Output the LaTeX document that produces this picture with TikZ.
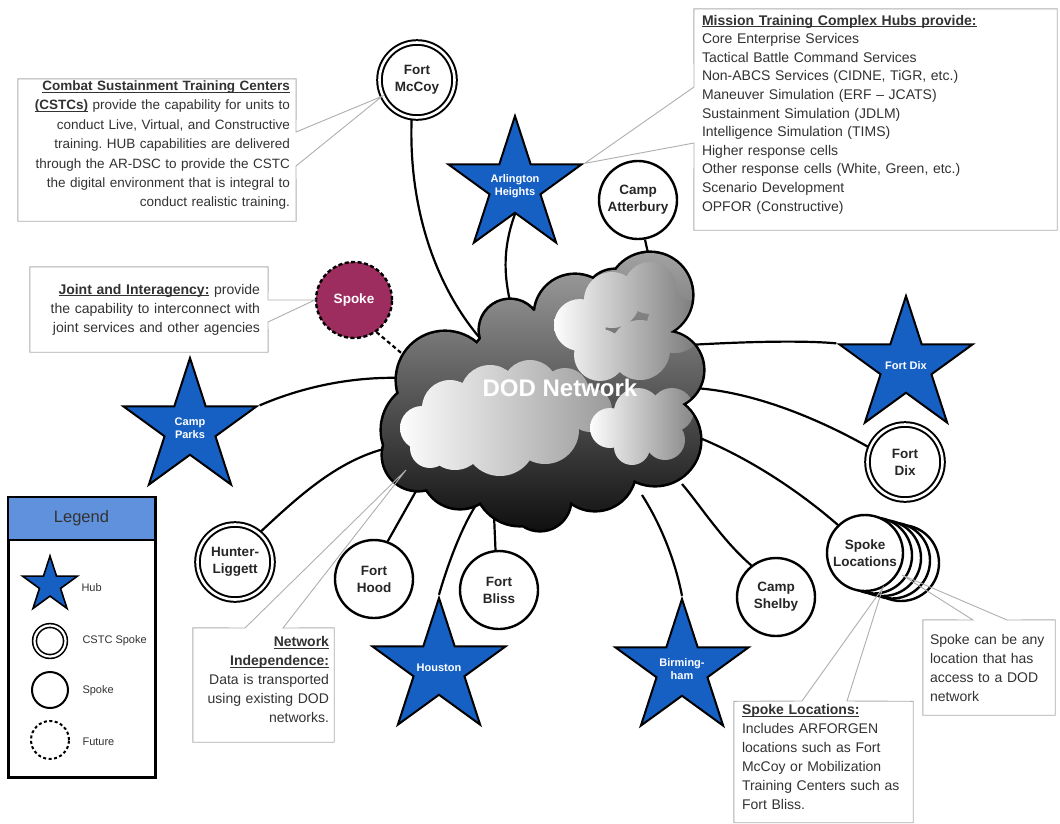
\documentclass[tikz,border=0pt]{standalone}
\usepackage{fontspec}
\setmainfont{Liberation Sans}
\usetikzlibrary{shapes.geometric}
\definecolor{hubblue}{RGB}{22,96,196}
\definecolor{legblue}{RGB}{95,145,220}
\definecolor{spokemag}{RGB}{158,45,95}
\definecolor{txt}{RGB}{50,50,50}
\definecolor{callgray}{RGB}{175,175,175}
\pgfdeclarelayer{back}
\pgfdeclarelayer{bg}
\pgfsetlayers{back,bg,main}
\newcommand\ul[1]{\underline{\smash{#1}}}
\newcommand\boxfont{\frenchspacing\fontsize{14}{19}\selectfont}
\newcommand\nodefont{\bfseries\fontsize{13.5}{17}\selectfont}
\newcommand\hubfont{\bfseries\fontsize{11}{13.5}\selectfont}
\newcommand\legfont{\fontsize{11}{13}\selectfont}
\begin{document}
\begin{tikzpicture}[x=1pt,y=-1pt,
  spk/.style={circle,draw=black,line width=2.4pt,fill=white,minimum size=78pt,inner sep=0pt,font=\nodefont,text=black!85,align=center},
  cstc/.style={circle,draw=black,line width=2pt,double=white,double distance=2.6pt,fill=white,minimum size=75pt,inner sep=0pt,font=\nodefont,text=black!85,align=center},
  hub/.style={star,star points=5,star point ratio=2.618,draw=black,line width=2pt,fill=hubblue,minimum size=140pt,inner sep=0pt},
  hublabel/.style={text=white,font=\hubfont,align=center,inner sep=0pt},
  future/.style={circle,draw=black,line width=2.4pt,dash pattern=on 4pt off 2.5pt,minimum size=76pt,inner sep=0pt},
  link/.style={line width=2.2pt,black},
  callout/.style={draw=callgray,line width=0.9pt},
  textbox/.style={rectangle,fill=white,inner ysep=0pt,text=txt,font=\boxfont}]
\useasboundingbox (0,0) rectangle (1060,823);
\begin{pgfonlayer}{back}
\fill[white] (0,0) rectangle (1060,823);
\end{pgfonlayer}

% ---------------- cloud ----------------
\def\outerlist{430/430/48, 445/380/48, 510/330/30, 575/315/40, 615/300/30, 650/295/42, 622/348/40, 665/370/38, 632/400/38, 655/440/45, 595/470/40, 520/480/45, 460/470/38, 418/455/35, 545/395/85, 540/500/30}
\fill[black] foreach \cx/\cy/\cr in \outerlist { (\cx,\cy) circle[radius=\cr+2.6] };
\begin{scope}
  \clip foreach \cx/\cy/\cr in \outerlist { (\cx,\cy) circle[radius=\cr] };
  \shade[top color=black!35, middle color=black!55, bottom color=black!95] (375,245) rectangle (715,535);
  \begin{scope}
    \clip foreach \cx/\cy/\cr in {422/428/22, 450/408/28, 490/395/30, 530/388/28, 565/392/24, 590/410/22, 545/430/34, 500/440/36, 455/440/30, 430/448/20} { (\cx,\cy) circle[radius=\cr] };
    \shade[left color=white, right color=black!40] (395,360) rectangle (615,478);
  \end{scope}
  \begin{scope}
    \clip foreach \cx/\cy/\cr in {580/325/26, 612/300/28, 650/288/26, 675/325/28, 640/350/30, 600/355/26} { (\cx,\cy) circle[radius=\cr] };
    \shade[left color=white, right color=black!55] (552,262) rectangle (705,385);
  \end{scope}
  \begin{scope}
    \clip foreach \cx/\cy/\cr in {610/428/20, 638/412/24, 672/410/22, 665/440/20, 632/447/18} { (\cx,\cy) circle[radius=\cr] };
    \shade[left color=white, right color=black!50] (588,385) rectangle (700,465);
  \end{scope}
\end{scope}
\node[font=\bfseries\fontsize{24}{24}\selectfont,text=white] (dod) at (560,388) {DOD Network};

% ---------------- nodes ----------------
\node[cstc] (mccoy) at (417,80) {Fort\\McCoy};
\node[hub] (arl) at (515,186) {};
\node[hublabel] (arlt) at (arl) {Arlington\\Heights};
\node[spk] (atter) at (638,200) {Camp\\Atterbury};
\node[future,fill=spokemag,font=\nodefont,text=white] (spoke) at (354,300) {Spoke};
\node[hub] (parks) at (190,428) {};
\node[hublabel] (parkst) at (parks) {Camp\\Parks};
\node[hub] (fdixstar) at (906,366) {};
\node[hublabel] (fdixstart) at (fdixstar) {Fort Dix};
\node[cstc] (fdix) at (905,462) {Fort\\Dix};
\node[cstc] (hunter) at (235,562) {Hunter-\\Liggett};
\node[spk] (hood) at (374,579) {Fort\\Hood};
\node[spk] (bliss) at (499,590) {Fort\\Bliss};
\node[hub] (houston) at (439,668) {};
\node[hublabel] (houstont) at (houston) {Houston};
\node[hub] (birm) at (682,669) {};
\node[hublabel] (birmt) at (birm) {Birming-\\ham};
\node[spk] (shelby) at (776,597) {Camp\\Shelby};
\node[spk,minimum size=76pt] (sploc4) at (901,563) {};
\node[spk,minimum size=76pt] (sploc3) at (892,560.5) {};
\node[spk,minimum size=76pt] (sploc2) at (883,558) {};
\node[spk,minimum size=76pt] (sploc1) at (874,555.5) {};
\node[spk,minimum size=76pt] (sploc) at (865,553) {Spoke\\Locations};

% ---------------- connectors ----------------
\begin{pgfonlayer}{bg}
\draw[link] (mccoy.262) .. controls (408,215) and (440,295) .. (486,345);
\draw[link] (arl.south) .. controls (500,255) and (506,285) .. (512,310);
\draw[link] (atter.-80) -- (650,262);
\draw[link,dash pattern=on 4pt off 3pt] (spoke.-55) -- (412,362);
\draw[link] (parks.outer point 5) .. controls (300,388) and (350,376) .. (405,378);
\draw[link] (hunter.50) .. controls (300,495) and (340,458) .. (392,447);
\draw[link] (hood.70) -- (420,484);
\draw[link] (bliss.95) -- (494,515);
\draw[link] (houston.outer point 1) .. controls (446,570) and (460,530) .. (476,505);
\draw[link] (birm.outer point 1) .. controls (674,555) and (658,520) .. (642,495);
\draw[link] (shelby.128) .. controls (722,540) and (700,505) .. (682,484);
\draw[link] (sploc.134) .. controls (800,492) and (750,458) .. (695,436);
\draw[link] (fdix.158) .. controls (830,425) and (760,392) .. (694,388);
\draw[link] (fdixstar.outer point 2) .. controls (800,340) and (740,342) .. (688,345);
\end{pgfonlayer}

% ---------------- text boxes and callouts ----------------
\node[textbox,minimum width=278,minimum height=142,inner xsep=6pt,text width=266,align=right,font=\frenchspacing\fontsize{13.5}{19.4}\selectfont] (cstcbox) at (157,150)
 {\textbf{\ul{Combat Sustainment Training Centers}}\\
  \textbf{\ul{(CSTCs)}} provide the capability for units to\\
  conduct Live, Virtual, and Constructive\\
  training. HUB capabilities are delivered\\
  through the AR-DSC to provide the CSTC\\
  the digital environment that is integral to\\
  conduct realistic training.};
\draw[callout] (cstcbox.north west) -- (cstcbox.north east) -- (296,132) -- (mccoy.205) -- (296,166) -- (cstcbox.south east) -- (cstcbox.south west) -- cycle;

\node[textbox,minimum width=363,minimum height=221,inner xsep=8pt,text width=347,align=left,font=\frenchspacing\fontsize{14}{18.6}\selectfont] (mtcbox) at (875.5,119.5)
 {\textbf{\ul{Mission Training Complex Hubs provide:}}\\
  Core Enterprise Services\\
  Tactical Battle Command Services\\
  Non-ABCS Services (CIDNE, TiGR, etc.)\\
  Maneuver Simulation (ERF -- JCATS)\\
  Sustainment Simulation (JDLM)\\
  Intelligence Simulation (TIMS)\\
  Higher response cells\\
  Other response cells (White, Green, etc.)\\
  Scenario Development\\
  OPFOR (Constructive)};
\draw[callout] (mtcbox.north west) -- (mtcbox.north east) -- (mtcbox.south east) -- (mtcbox.south west) -- (694,143) -- (arl.outer point 5) -- (694,87) -- cycle;

\node[textbox,minimum width=238,minimum height=85,inner xsep=8pt,text width=222,align=right] (jointbox) at (149,309.5)
 {\textbf{\ul{Joint and Interagency:}} provide\\
  the capability to interconnect with\\
  joint services and other agencies};
\draw[callout] (jointbox.north west) -- (jointbox.north east) -- (268,300) -- (spoke.180) -- (268,322) -- (jointbox.south east) -- (jointbox.south west) -- cycle;

\coordinate (cnet) at (406,470);
\node[textbox,minimum width=141,minimum height=114,inner xsep=5pt,text width=131,align=right] (netbox) at (263.5,685)
 {\textbf{\ul{Network}}\\
  \textbf{\ul{Independence:}}\\
  Data is transported\\
  using existing DOD\\
  networks.};
\draw[callout] (netbox.north west) -- (245,628) -- (cnet) -- (283,628) -- (netbox.north east) -- (netbox.south east) -- (netbox.south west) -- cycle;

\node[textbox,minimum width=179,minimum height=121,inner xsep=8pt,text width=163,align=left] (slbox) at (823.5,762)
 {\textbf{\ul{Spoke Locations:}}\\
  Includes ARFORGEN\\
  locations such as Fort\\
  McCoy or Mobilization\\
  Training Centers such as\\
  Fort Bliss.};
\draw[callout] (slbox.north west) -- (802,701) -- (sploc.-63) -- (847,701) -- (slbox.north east) -- (slbox.south east) -- (slbox.south west) -- cycle;

\coordinate (cstack) at (902,575);
\node[textbox,minimum width=132,minimum height=95,inner xsep=7pt,text width=118,align=left] (anybox) at (989,667.5)
 {Spoke can be any\\
  location that has\\
  access to a DOD\\
  network};
\draw[callout] (anybox.north west) -- (973,620) -- (cstack) -- (1007,620) -- (anybox.north east) -- (anybox.south east) -- (anybox.south west) -- cycle;

% ---------------- legend ----------------
\node[draw=black,line width=3pt,fill=white,minimum width=147,minimum height=280,inner sep=0pt] (legbox) at (81.5,637) {};
\node[draw=black,line width=2.5pt,fill=legblue,minimum width=147,minimum height=43,inner sep=0pt,font=\fontsize{16.5}{18}\selectfont,text=black!80] (leghead) at (81.5,518.5) {Legend};
\node[hub,minimum size=58pt,line width=1.6pt] (leghub) at (50,585) {};
\node[cstc,minimum size=31pt,line width=1.6pt,double distance=2.2pt] (legcstc) at (50,641) {};
\node[spk,minimum size=36pt,line width=2pt] (legspk) at (50,690) {};
\node[future,minimum size=38pt,line width=2pt,dash pattern=on 3pt off 2.5pt] (legfut) at (50,740) {};
\node[anchor=west,font=\legfont,text=txt] (lhub) at (78,588) {Hub};
\node[anchor=west,font=\legfont,text=txt] (lcstc) at (79,641) {CSTC Spoke};
\node[anchor=west,font=\legfont,text=txt] (lspk) at (79,691) {Spoke};
\node[anchor=west,font=\legfont,text=txt] (lfut) at (79,742) {Future};
\end{tikzpicture}
\end{document}
